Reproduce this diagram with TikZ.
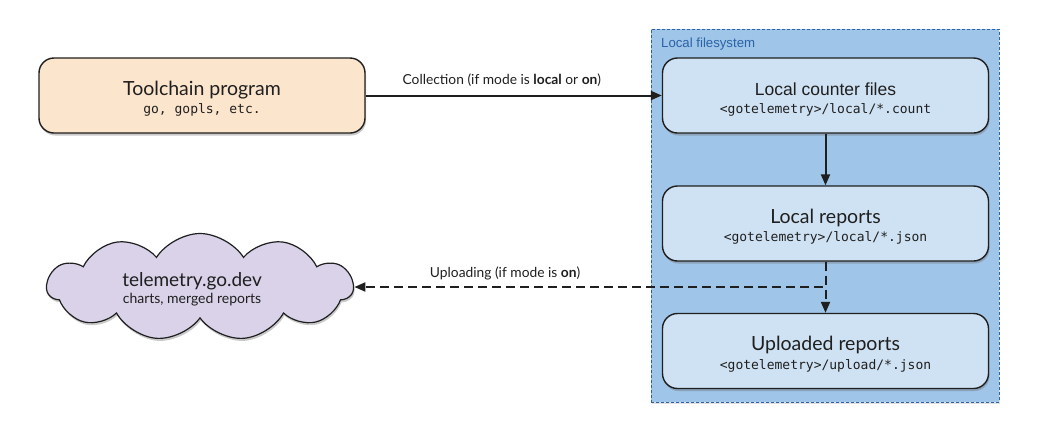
\documentclass[tikz,border=0pt]{standalone}
\usepackage{fontspec}
\setmainfont{Lato}
\newfontfamily\arialfont{Liberation Sans}
\newfontfamily\monofont{DejaVu Sans Mono}
\usetikzlibrary{arrows.meta,shapes.symbols,shadows,positioning}
\definecolor{peach}{HTML}{FCE5CD}
\definecolor{fsblue}{HTML}{9FC5E8}
\definecolor{boxblue}{HTML}{CFE2F3}
\definecolor{lav}{HTML}{D9D2E9}
\definecolor{fsborder}{HTML}{2A63A6}
\definecolor{ink}{HTML}{1F1F1F}
\tikzset{
  x=1pt,y=-1pt,
  shade/.style={drop shadow={shadow xshift=1pt,shadow yshift=-2.5pt,opacity=0.35,fill=black!60}},
  procbox/.style={draw=ink,line width=1.4pt,rounded corners=15pt,minimum width=326pt,minimum height=75pt,align=center,inner sep=0pt,shade,text=ink,font=\fontsize{19.5}{18.5}\selectfont},
  conn/.style={line width=2pt,-{Triangle[length=11pt,width=9pt]},draw=ink},
  dconn/.style={conn,dash pattern=on 9pt off 5pt},
  lbl/.style={font=\fontsize{13.8}{15}\selectfont,text=ink}
}
\newcommand{\monoline}[1]{{\monofont\fontsize{13}{14}\selectfont #1}}
\newcommand{\strt}{\rule{0pt}{20.5pt}}
\begin{document}
\begin{tikzpicture}
\useasboundingbox (0,0) rectangle (1038,424);
% container
\node[draw=fsborder,line width=0.9pt,dash pattern=on 3pt off 2pt,fill=fsblue,minimum width=348pt,minimum height=373pt,inner sep=0pt,drop shadow={shadow xshift=1pt,shadow yshift=-1.5pt,opacity=0.25}] (fs) at (825,215.5) {};
\node[anchor=west,text=fsborder,font=\arialfont\fontsize{13.2}{15}\selectfont,inner sep=0pt] (fslbl) at (661,44.5) {Local filesystem};
% nodes
\node[procbox,fill=peach] (tc) at (202,95.5) {\strt Toolchain program\\\monoline{go, gopls, etc.}};
\node[procbox,fill=boxblue] (lc) at (825.5,95.5) {\strt{\arialfont\fontsize{17.5}{18.5}\selectfont Local counter files}\\\monoline{<gotelemetry>/local/*.count}};
\node[procbox,fill=boxblue] (lr) at (825.5,223.5) {\strt Local reports\\\monoline{<gotelemetry>/local/*.json}};
\node[procbox,fill=boxblue] (up) at (825.5,351) {\strt Uploaded reports\\\monoline{<gotelemetry>/upload/*.json}};
\node[cloud,cloud puffs=11,cloud puff arc=115,aspect=2.9,draw=ink,line width=1.2pt,fill=lav,minimum width=306pt,minimum height=107pt,inner sep=0pt,align=center,shade] (cl) at (200,287) {};
\node[align=center,text=ink,inner sep=0pt,font=\fontsize{19}{16.5}\selectfont] (cltxt) at (192,289.5) {telemetry.go.dev\\{\fontsize{14}{15}\selectfont charts, merged reports}};
% connectors
\draw[conn] (tc.east) -- node[lbl,pos=0.46,above=7.5pt,inner sep=0pt] {Collection (if mode is \textbf{local} or \textbf{on})} (lc.west);
\draw[conn] (lc.south) -- (lr.north);
\draw[dconn] (lr.south) -- (up.north);
\draw[dconn] (lr.south) |- node[lbl,pos=0.84,above=5.5pt,inner sep=0pt] {Uploading (if mode is \textbf{on})} (cl.east);
\end{tikzpicture}
\end{document}
